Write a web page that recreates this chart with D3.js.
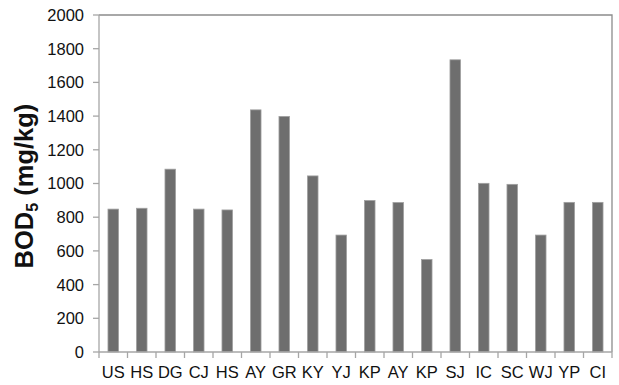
<!DOCTYPE html>
<html lang="en">
<head>
<meta charset="utf-8">
<title>BOD5</title>
<script src="https://d3js.org/d3.v7.min.js"></script>
<style>
  body { margin: 0; background: #fff; font-family: Arial, "Liberation Sans", sans-serif; }
  .tick-label { font-size: 16.5px; fill: #111; }
  .title { font-size: 25.5px; font-weight: bold; fill: #111; }
</style>
</head>
<body>
<svg id="chart" width="619" height="385"></svg>
<script>
const sites = ['US','HS','DG','CJ','HS','AY','GR','KY','YJ','KP','AY','KP','SJ','IC','SC','WJ','YP','CI'];
const bod5 = [848, 853, 1085, 848, 843, 1437, 1398, 1045, 694, 899, 887, 549, 1734, 1001, 995, 694, 888, 888];
const yTicks = [0, 200, 400, 600, 800, 1000, 1200, 1400, 1600, 1800, 2000];

const m = { left: 99, right: 612, top: 15, bottom: 352 };
const svg = d3.select('#chart');

// index based band so repeated names stay separate
const x = d3.scaleBand()
    .domain(d3.range(sites.length))
    .range([m.left, m.right])
    .paddingInner(0.63)
    .paddingOuter(0.315);
const step = x.step();

const y = d3.scaleLinear().domain([0, 2000]).range([m.bottom, m.top]);

// frame top + right
svg.append('path')
    .attr('d', `M${m.left},${m.top}H${m.right}V${m.bottom}`)
    .attr('fill', 'none')
    .attr('stroke', '#8c8c8c')
    .attr('stroke-width', 1.3);

// bars
svg.selectAll('.bar')
    .data(bod5)
    .enter().append('rect')
    .attr('class', 'bar')
    .attr('x', (d, i) => x(i))
    .attr('y', d => y(d))
    .attr('width', x.bandwidth())
    .attr('height', d => m.bottom - y(d))
    .attr('fill', '#6e6e6e')
    .attr('stroke', '#a0a0a0')
    .attr('stroke-width', 0.8);

// y axis
svg.append('line')
    .attr('x1', m.left).attr('x2', m.left)
    .attr('y1', m.top).attr('y2', m.bottom)
    .attr('stroke', '#a6a6a6').attr('stroke-width', 1.3);

svg.selectAll('.ytick')
    .data(yTicks)
    .enter().append('line')
    .attr('x1', m.left - 6).attr('x2', m.left)
    .attr('y1', d => y(d)).attr('y2', d => y(d))
    .attr('stroke', '#a6a6a6').attr('stroke-width', 1.3);

svg.selectAll('.ylabel')
    .data(yTicks)
    .enter().append('text')
    .attr('class', 'tick-label')
    .attr('x', 84)
    .attr('y', d => y(d))
    .attr('dy', '0.36em')
    .attr('text-anchor', 'end')
    .text(d => d);

// x axis
svg.append('line')
    .attr('x1', m.left).attr('x2', m.right)
    .attr('y1', m.bottom).attr('y2', m.bottom)
    .attr('stroke', '#a6a6a6').attr('stroke-width', 1.3);

svg.selectAll('.xtick')
    .data(d3.range(sites.length + 1))
    .enter().append('line')
    .attr('x1', i => m.left + i * step).attr('x2', i => m.left + i * step)
    .attr('y1', m.bottom).attr('y2', m.bottom + 6)
    .attr('stroke', '#a6a6a6').attr('stroke-width', 1.3);

svg.selectAll('.xlabel')
    .data(sites)
    .enter().append('text')
    .attr('class', 'tick-label')
    .attr('x', (d, i) => x(i) + x.bandwidth() / 2)
    .attr('y', 378)
    .attr('text-anchor', 'middle')
    .text(d => d);

// axis title
const title = svg.append('text')
    .attr('class', 'title')
    .attr('transform', 'translate(33,186) rotate(-90)')
    .attr('text-anchor', 'middle');
title.append('tspan').text('BOD');
title.append('tspan').attr('font-size', '16px').attr('dy', 5).text('5');
title.append('tspan').attr('dy', -5).text(' (mg/kg)');
</script>
</body>
</html>
